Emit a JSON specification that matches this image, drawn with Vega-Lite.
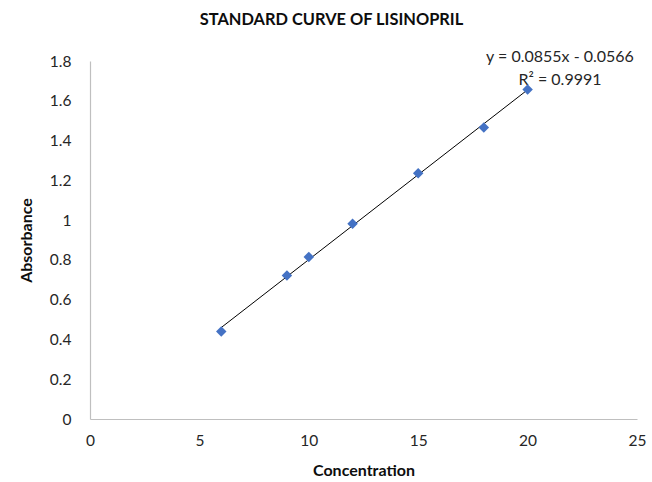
{
  "$schema": "https://vega.github.io/schema/vega-lite/v6.json",
  "width": 547,
  "height": 358,
  "autosize": {"type": "none"},
  "padding": {"left": 90, "top": 61, "right": 15, "bottom": 63},
  "background": "white",
  "config": {
    "view": {"stroke": null},
    "font": "Lato",
    "axis": {
      "grid": false,
      "ticks": false,
      "labelOverlap": false,
      "labelFlush": false,
      "domainColor": "#bfbfbf",
      "domainWidth": 1.2,
      "labelFont": "Lato",
      "labelFontSize": 15.5,
      "labelColor": "#262626",
      "titleFont": "Lato",
      "titleFontSize": 16,
      "titleFontWeight": "bold",
      "titleColor": "#0d0d0d"
    }
  },
  "title": {
    "text": "STANDARD CURVE OF LISINOPRIL",
    "font": "Lato",
    "fontSize": 16.4,
    "fontWeight": "bold",
    "color": "#0d0d0d",
    "anchor": "middle",
    "dx": -32,
    "offset": 21
  },
  "data": {
    "values": [
      {"Concentration": 6, "Absorbance": 0.44},
      {"Concentration": 9, "Absorbance": 0.722},
      {"Concentration": 10, "Absorbance": 0.815},
      {"Concentration": 12, "Absorbance": 0.982},
      {"Concentration": 15, "Absorbance": 1.236},
      {"Concentration": 18, "Absorbance": 1.466},
      {"Concentration": 20, "Absorbance": 1.657}
    ]
  },
  "layer": [
    {
      "transform": [{"regression": "Absorbance", "on": "Concentration"}],
      "mark": {"type": "line", "color": "#000000", "strokeWidth": 1},
      "encoding": {
        "x": {
          "field": "Concentration",
          "type": "quantitative",
          "scale": {"domain": [0, 25], "nice": false, "zero": true},
          "axis": {"values": [0, 5, 10, 15, 20, 25], "labelOverlap": false, "labelFlush": false, "labelPadding": 14, "titlePadding": 14, "title": "Concentration"}
        },
        "y": {
          "field": "Absorbance",
          "type": "quantitative",
          "scale": {"domain": [0, 1.8], "nice": false},
          "axis": {"values": [0, 0.2, 0.4, 0.6, 0.8, 1, 1.2, 1.4, 1.6, 1.8], "labelOverlap": false, "labelFlush": false, "format": "~g", "labelPadding": 19, "titlePadding": 15, "title": "Absorbance"}
        }
      }
    },
    {
      "data": {"values": [{"label": "equation"}]},
      "mark": {"type": "text", "align": "center", "baseline": "middle", "fontSize": 16, "fontWeight": "normal", "lineHeight": 23, "color": "#262626", "font": "Lato"},
      "encoding": {
        "x": {
          "datum": 21.48,
          "type": "quantitative",
          "scale": {"domain": [0, 25], "nice": false, "zero": true},
          "axis": {"values": [0, 5, 10, 15, 20, 25], "labelOverlap": false, "labelFlush": false, "labelPadding": 14, "titlePadding": 14, "title": "Concentration"}
        },
        "y": {
          "datum": 1.82,
          "type": "quantitative",
          "scale": {"domain": [0, 1.8], "nice": false},
          "axis": {"values": [0, 0.2, 0.4, 0.6, 0.8, 1, 1.2, 1.4, 1.6, 1.8], "labelOverlap": false, "labelFlush": false, "format": "~g", "labelPadding": 19, "titlePadding": 15, "title": "Absorbance"}
        },
        "text": {"value": ["y = 0.0855x - 0.0566", "R² = 0.9991"]}
      }
    },
    {
      "mark": {"type": "point", "shape": "diamond", "filled": true, "color": "#4472C4", "opacity": 1, "size": 110},
      "encoding": {
        "x": {
          "field": "Concentration",
          "type": "quantitative",
          "scale": {"domain": [0, 25], "nice": false, "zero": true},
          "axis": {"values": [0, 5, 10, 15, 20, 25], "labelOverlap": false, "labelFlush": false, "labelPadding": 14, "titlePadding": 14, "title": "Concentration"}
        },
        "y": {
          "field": "Absorbance",
          "type": "quantitative",
          "scale": {"domain": [0, 1.8], "nice": false},
          "axis": {"values": [0, 0.2, 0.4, 0.6, 0.8, 1, 1.2, 1.4, 1.6, 1.8], "labelOverlap": false, "labelFlush": false, "format": "~g", "labelPadding": 19, "titlePadding": 15, "title": "Absorbance"}
        }
      }
    }
  ]
}
